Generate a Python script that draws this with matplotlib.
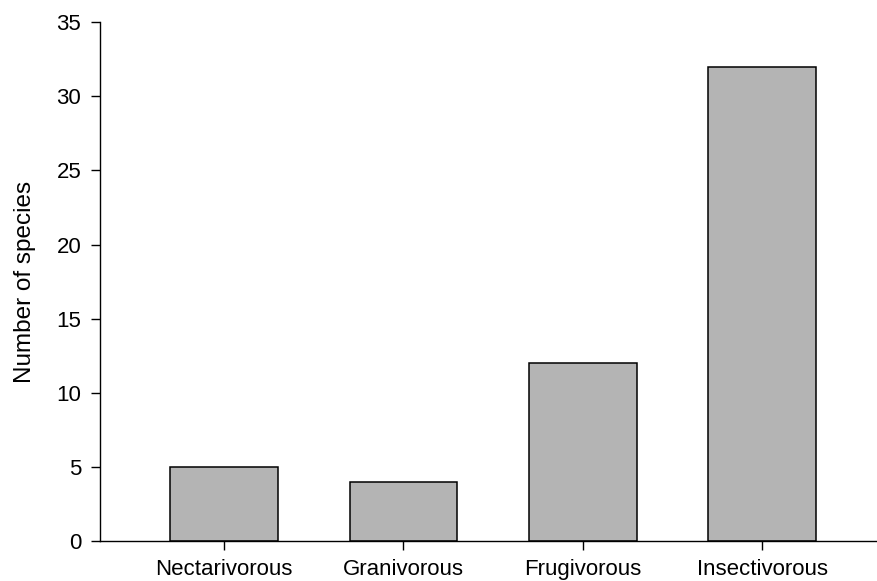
import matplotlib.pyplot as plt

# данные
categories = ["Nectarivorous", "Granivorous", "Frugivorous", "Insectivorous"]
species = [5, 4, 12, 32]

plt.rcParams["font.family"] = ["Liberation Sans", "DejaVu Sans"]

fig = plt.figure(figsize=(8.78, 5.81), dpi=100)
ax = fig.add_axes([0.114, 0.068, 0.885, 0.894])

ax.bar(range(len(categories)), species, width=0.6, color="#b4b4b4",
       edgecolor="black", linewidth=1.1)

ax.set_xlim(-0.69, 3.64)
ax.set_ylim(0, 35)
ax.set_yticks(range(0, 36, 5))
ax.set_xticks(range(len(categories)))
ax.set_xticklabels(categories)
ax.set_ylabel("Number of species", fontsize=17.5)
ax.yaxis.set_label_coords(-0.083, 0.5)

ax.tick_params(axis="both", direction="out", length=6.5, width=1.0,
               labelsize=16, color="black")
ax.tick_params(axis="y", pad=7)
ax.tick_params(axis="x", pad=6)

ax.spines["top"].set_visible(False)
ax.spines["right"].set_visible(False)
for s in ("left", "bottom"):
    ax.spines[s].set_linewidth(1.0)

fig.savefig("out.png", dpi=100)
